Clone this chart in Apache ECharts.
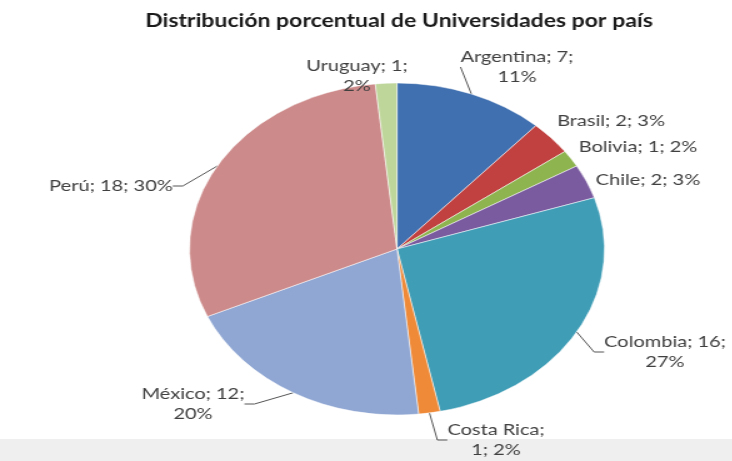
<!DOCTYPE html>
<html>
<head>
<meta charset="utf-8">
<script src="https://cdn.jsdelivr.net/npm/echarts@6/dist/echarts.min.js"></script>
<style>
  html, body { margin: 0; padding: 0; background: #fff; overflow: hidden; }
  #wrap { width: 732px; height: 461px; position: relative; overflow: hidden; }
  /* the reference is a horizontally stretched screenshot, so draw narrow and stretch */
  #chart { width: 586px; height: 461px; transform: scaleX(1.25); transform-origin: 0 0; }
</style>
</head>
<body>
<div id="wrap"><div id="chart"></div></div>
<script>
const countries = ['Argentina', 'Brasil', 'Bolivia', 'Chile', 'Colombia', 'Costa Rica', 'México', 'Perú', 'Uruguay'];
const universities = [7, 2, 1, 2, 16, 1, 12, 18, 1];
const percents = ['11%', '3%', '2%', '3%', '27%', '2%', '20%', '30%', '2%'];

const stretch = 1.25;
const colors = ['#4170b0', '#c0413f', '#8db44f', '#7a5ba0', '#3f9db6', '#ef8a38', '#90a7d3', '#cd8a8a', '#bfd69b'];
// where Excel wrapped each label: after how many "; " parts (0 = one line)
const wrapAfter = [2, 0, 0, 0, 2, 1, 2, 0, 2];
// labels sitting right on the pie get no leader line
const leader = [true, false, false, false, true, true, true, true, false];
// label block centres as placed by Excel, in page pixels
const labelSpots = [[517, 67], [611, 121], [638, 147], [648, 180], [665, 352], [496, 440], [193, 404], [111, 186], [357, 76]];

const chart = echarts.init(document.getElementById('chart'));

chart.setOption({
  animation: false,
  graphic: [{
    type: 'rect',
    left: 0,
    bottom: 0,
    shape: {width: 586, height: 22},
    style: {fill: '#efefef'}
  }, {
    type: 'text',
    x: 399 / stretch,
    y: 21,
    style: {
      text: 'Distribución porcentual de Universidades por país',
      align: 'center',
      verticalAlign: 'middle',
      fontFamily: 'Lato',
      fontWeight: 'bold',
      fontSize: 18.4,
      fill: '#1a1a1a'
    }
  }],
  series: [{
    type: 'pie',
    center: [397 / stretch, 249],
    radius: 166,
    startAngle: 90,
    clockwise: true,
    data: countries.map((name, i) => ({
      name: name,
      value: universities[i],
      itemStyle: {color: colors[i]},
      labelLine: {show: leader[i]}
    })),
    itemStyle: {borderColor: '#fff', borderWidth: 0.5},
    label: {
      show: true,
      position: 'outside',
      fontFamily: 'Lato',
      fontSize: 16,
      lineHeight: 20,
      color: '#404040',
      formatter: (p) => {
        const parts = [p.name + ';', p.value + ';', percents[p.dataIndex]];
        const n = wrapAfter[p.dataIndex];
        if (!n) return parts.join(' ');
        return parts.slice(0, n).join(' ') + '\n' + parts.slice(n).join(' ');
      }
    },
    labelLine: {
      length: 6,
      length2: 8,
      lineStyle: {color: '#555', width: 1}
    },
    labelLayout: (params) => ({
      x: labelSpots[params.dataIndex][0] / stretch,
      y: labelSpots[params.dataIndex][1],
      align: 'center',
      verticalAlign: 'middle'
    })
  }]
});
</script>
</body>
</html>
